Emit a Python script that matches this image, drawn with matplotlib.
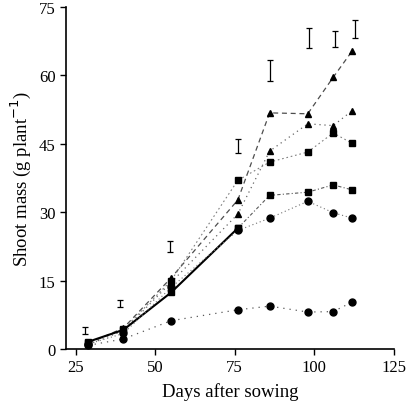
import matplotlib
matplotlib.use("Agg")
import matplotlib.pyplot as plt

days = [29, 40, 55, 76, 86, 98, 106, 112]

# six treatments
tri_a = [1.2, 4.6, 15.6, 32.7, 51.8, 51.6, 59.6, 65.4]
tri_b = [1.0, 4.0, 14.6, 29.6, 43.4, 49.4, 49.0, 52.3]
sq_a = [1.4, 4.3, 15.0, 37.0, 41.0, 43.2, 47.4, 45.1]
sq_b = [1.6, 4.2, 12.4, 26.5, 33.7, 34.4, 36.0, 34.9]
ci_a = [1.1, 3.4, 13.5, 26.0, 28.7, 32.4, 29.9, 28.7]
ci_b = [0.8, 2.2, 6.2, 8.6, 9.4, 8.1, 8.2, 10.3]

# LSD bars
bar_days = [28, 39, 54.5, 76, 86, 98.5, 106.5, 113]
bar_mid = [4.1, 9.95, 22.5, 44.6, 61.1, 68.2, 68.0, 70.2]
bar_half = [0.8, 0.75, 1.2, 1.5, 2.3, 2.2, 1.85, 2.0]

xticks = [25, 50, 75, 100, 125]
yticks = [0, 15, 30, 45, 60, 75]

plt.rcParams['font.family'] = ['Liberation Serif', 'DejaVu Serif']

fig = plt.figure(figsize=(4.07, 4.06), dpi=100)
ax = fig.add_axes([0.162, 0.138, 0.805, 0.842])

ms = 5
mk = dict(ms=ms, mfc='black', mec='black')
ax.plot(days, tri_a, linestyle=(0, (4, 3)), color='0.3', lw=0.9, marker='^', **mk)
ax.plot(days, tri_b, linestyle=(0, (1, 3)), color='0.4', lw=0.9, marker='^', **mk)
ax.plot(days, sq_a, linestyle=(0, (1.5, 2.5)), color='0.5', lw=0.8, marker='s', **mk)
# solid early part, faint later part
ax.plot(days[:4], sq_b[:4], linestyle='-', color='black', lw=1.5, marker='s', **mk)
ax.plot(days[3:], sq_b[3:], linestyle=(0, (3, 2, 1, 2)), color='0.35', lw=0.8,
        marker='s', **mk)
ax.plot(days, ci_a, linestyle=(0, (1, 2.5)), color='0.45', lw=0.8, marker='o', **mk)
ax.plot(days, ci_b, linestyle=(0, (1, 4)), color='0.35', lw=0.9, marker='o', **mk)

ax.errorbar(bar_days, bar_mid, yerr=bar_half, fmt='none', ecolor='black',
            elinewidth=0.9, capsize=2, capthick=0.9)

ax.set_xlim(21.9, 125)
ax.set_ylim(0, 75)
ax.set_xticks(xticks)
ax.set_yticks(yticks)
ax.spines['top'].set_visible(False)
ax.spines['right'].set_visible(False)
ax.spines['left'].set_linewidth(1.2)
ax.spines['bottom'].set_linewidth(1.2)
ax.tick_params(direction='out', length=4, width=1, labelsize=12)
ax.set_xlabel('Days after sowing', fontsize=13.5, labelpad=5)
ax.set_ylabel(r'Shoot mass (g plant$^{-1}$)', fontsize=13.5, labelpad=4)

fig.savefig('out.png', dpi=100)
